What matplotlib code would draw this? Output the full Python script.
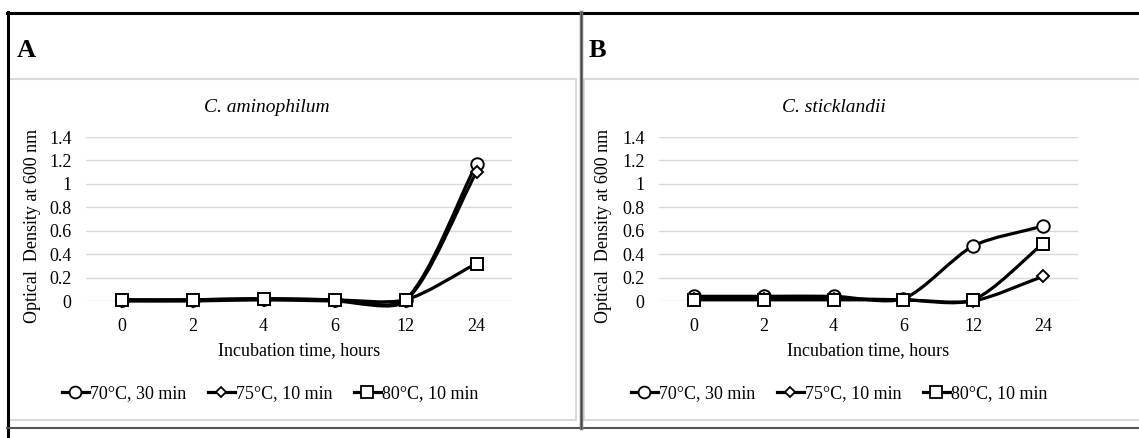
import numpy as np
import matplotlib
matplotlib.use("Agg")
import matplotlib.pyplot as plt
from matplotlib.path import Path
from matplotlib.patches import PathPatch
from matplotlib.lines import Line2D

# ---------------- data ----------------
hours = ["0", "2", "4", "6", "12", "24"]
series_labels = ["70\u00b0C, 30 min", "75\u00b0C, 10 min", "80\u00b0C, 10 min"]
markers = ["o", "D", "s"]
marker_sizes = [9, 6, 9]

panel_letters = ["A", "B"]
organisms = ["C. aminophilum", "C. sticklandii"]

amino_70 = [0.01, 0.01, 0.02, 0.01, 0.01, 1.17]
amino_75 = [0.00, 0.00, 0.01, 0.00, 0.00, 1.10]
amino_80 = [0.01, 0.01, 0.02, 0.01, 0.01, 0.32]

stick_70 = [0.04, 0.04, 0.04, 0.02, 0.47, 0.64]
stick_75 = [0.02, 0.02, 0.02, 0.01, 0.00, 0.21]
stick_80 = [0.01, 0.01, 0.01, 0.01, 0.01, 0.49]

panels = [[amino_70, amino_75, amino_80], [stick_70, stick_75, stick_80]]

ytick_vals = [0, 0.2, 0.4, 0.6, 0.8, 1, 1.2, 1.4]
ytick_labels = ["0", "0.2", "0.4", "0.6", "0.8", "1", "1.2", "1.4"]

# ---------------- style ----------------
plt.rcParams["font.family"] = ["Liberation Serif", "DejaVu Serif"]
W, H = 1139, 438
fig = plt.figure(figsize=(W / 100, H / 100), dpi=100)


def px(x0, y0, x1, y1):
    """pixel box (top-left origin) -> figure fraction rect"""
    return [x0 / W, 1 - y1 / H, (x1 - x0) / W, (y1 - y0) / H]


def smooth_path(ax, xs, ys, tension=0.8):
    pts = ax.transData.transform(np.column_stack([xs, ys]))
    n = len(pts)
    verts = [pts[0]]
    codes = [Path.MOVETO]
    for i in range(n - 1):
        p0 = pts[i - 1] if i > 0 else pts[i]
        p1 = pts[i]
        p2 = pts[i + 1]
        p3 = pts[i + 2] if i + 2 < n else pts[i + 1]
        d01 = np.hypot(*(p1 - p0))
        d12 = np.hypot(*(p2 - p1))
        d23 = np.hypot(*(p3 - p2))
        f1 = tension / 3 * d12 / (d01 + d12) if d01 + d12 > 0 else 0
        f2 = tension / 3 * d12 / (d12 + d23) if d12 + d23 > 0 else 0
        c1 = p1 + (p2 - p0) * f1
        c2 = p2 - (p3 - p1) * f2
        verts += [c1, c2, p2]
        codes += [Path.CURVE4] * 3
    inv = ax.transData.inverted()
    return Path(inv.transform(np.array(verts)), codes)


axes_boxes = [(86, 137, 512, 301), (659, 137, 1078, 301)]
letter_pos = [(17, 57), (589, 57)]
title_pos = [(267, 107), (834, 107)]
ylabel_x = [33, 603]
legend_cx = [270, 839]

xs = np.arange(len(hours))

for p in range(2):
    ax = fig.add_axes(px(*axes_boxes[p]))
    ax.set_xlim(-0.5, len(hours) - 0.5)
    ax.set_ylim(0, 1.4)
    for s in ax.spines.values():
        s.set_visible(False)
    ax.set_yticks(ytick_vals)
    ax.set_yticklabels(ytick_labels)
    ax.set_xticks(xs)
    ax.set_xticklabels(hours)
    ax.tick_params(axis="both", length=0, labelsize=13, colors="black")
    ax.tick_params(axis="y", pad=10.5)
    ax.tick_params(axis="x", pad=12)
    ax.yaxis.grid(True, color="#d9d9d9", lw=1.0)
    ax.set_axisbelow(True)
    ax.set_xlabel("Incubation time, hours", fontsize=13, labelpad=5)

    fig.canvas.draw()
    handles = []
    for k, ys in enumerate(panels[p]):
        path = smooth_path(ax, xs, ys)
        patch = PathPatch(path, fill=False, edgecolor="black", lw=2.3,
                          transform=ax.transData, clip_on=False, zorder=3 + k)
        ax.add_patch(patch)
        ax.plot(xs, ys, linestyle="none", marker=markers[k],
                markersize=marker_sizes[k], markerfacecolor="white",
                markeredgecolor="black", markeredgewidth=1.4,
                clip_on=False, zorder=3.5 + k)
        handles.append(Line2D([], [], color="black", lw=2.3, marker=markers[k],
                              markersize=marker_sizes[k] - 0.5,
                              markerfacecolor="white", markeredgecolor="black",
                              markeredgewidth=1.3))

    x0, y0, x1, y1 = axes_boxes[p]
    ax.legend(handles, series_labels, loc="center",
              bbox_to_anchor=((legend_cx[p] - x0) / (x1 - x0), (y1 - 394) / (y1 - y0)),
              ncol=3, frameon=False, fontsize=13, handlelength=1.5,
              handletextpad=0.05, columnspacing=1.2)

    fig.text(letter_pos[p][0] / W, 1 - letter_pos[p][1] / H, panel_letters[p],
             fontsize=19, fontweight="bold", ha="left", va="baseline")
    fig.text(title_pos[p][0] / W, 1 - title_pos[p][1] / H, organisms[p],
             fontsize=14, style="italic", ha="center", va="center")
    fig.text(ylabel_x[p] / W, 1 - 226 / H, "Optical  Density at 600 nm",
             fontsize=13, rotation=90, ha="center", va="center")

# ---------------- frames ----------------
def hline(y, x0, x1, color, lw):
    fig.add_artist(Line2D([x0 / W, x1 / W], [1 - y / H, 1 - y / H],
                          transform=fig.transFigure, color=color, lw=lw))


def vline(x, y0, y1, color, lw):
    fig.add_artist(Line2D([x / W, x / W], [1 - y0 / H, 1 - y1 / H],
                          transform=fig.transFigure, color=color, lw=lw))

# light gray chart boxes
hline(78.5, 8, 576, "#d9d9d9", 1.5)
hline(420, 8, 576, "#d9d9d9", 1.5)
vline(576, 78.5, 420, "#d9d9d9", 1.5)
hline(78.5, 584, 1139, "#d9d9d9", 1.5)
hline(420, 584, 1139, "#d9d9d9", 1.5)
vline(584, 78.5, 420, "#d9d9d9", 1.5)

# dark outer frame
hline(12.5, 7, 1139, "black", 2.2)
vline(7.8, 12, 438, "black", 2.2)
hline(427.8, 7, 1139, "#555555", 1.5)
vline(580.5, 12, 428, "#777777", 2.5)
vline(580.5, 12, 428, "#444444", 0.8)

fig.savefig("out.png", dpi=100)
